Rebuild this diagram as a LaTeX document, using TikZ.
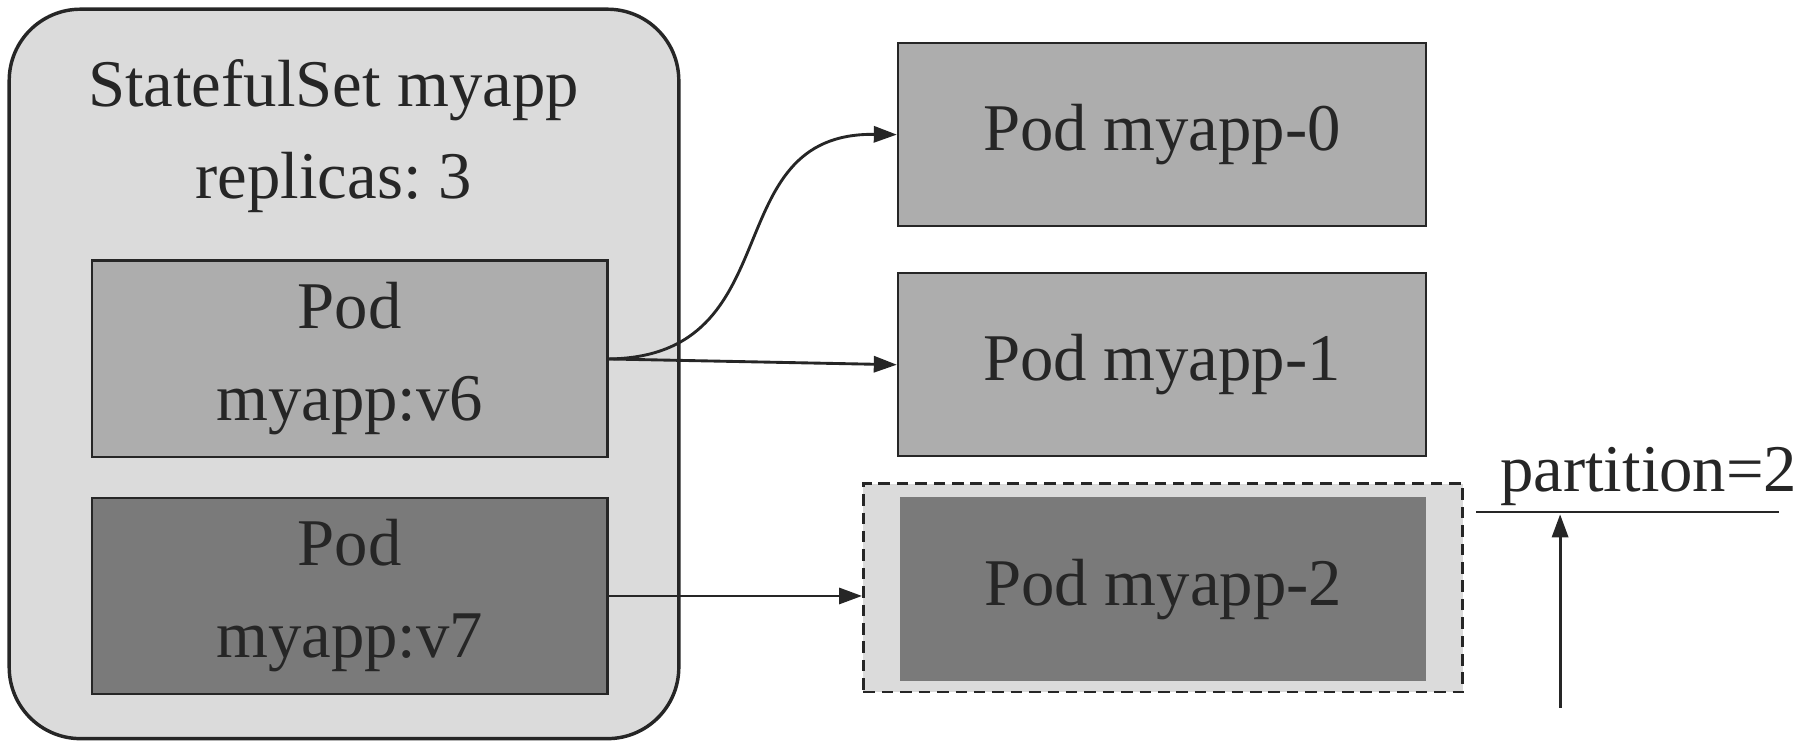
\documentclass[tikz,border=0pt]{standalone}
\usepackage{fontspec}
\setmainfont{LiberationSerif}[Extension=.ttf, UprightFont=*-Regular, BoldFont=*-Bold]
\usetikzlibrary{arrows.meta}
\definecolor{outerfill}{gray}{0.86}
\definecolor{lightpod}{gray}{0.68}
\definecolor{darkpod}{gray}{0.48}
\definecolor{dashfill}{gray}{0.86}
\definecolor{inkc}{gray}{0.15}
\frenchspacing
\begin{document}
\begin{tikzpicture}[x=1pt,y=-1pt,
  txt/.style={font=\rmfamily\fontsize{58}{80}\selectfont, text=inkc},
  podbox/.style={draw=inkc, line width=2pt, inner sep=0pt, align=center, txt},
  conn/.style={draw=inkc, line width=2.5pt, -{Triangle[length=20pt,width=14pt]}}]
\useasboundingbox (0,0) rectangle (1568,650.1);
% outer StatefulSet box
\node[draw=inkc, fill=outerfill, line width=3pt, rounded corners=62pt,
      minimum width=582pt, minimum height=634pt, inner sep=0pt] (ss) at (299,325) {};
\node[txt, align=center] (title) at (290,118) {StatefulSet myapp\\replicas: 3};
% pods inside
\node[podbox, fill=lightpod, minimum width=448pt, minimum height=171pt] (v6) at (304,312) {Pod\\myapp:v6};
\node[podbox, fill=darkpod, minimum width=448pt, minimum height=170pt] (v7) at (304,518) {Pod\\myapp:v7};
% right side pods
\node[podbox, fill=lightpod, minimum width=459pt, minimum height=159pt] (p0) at (1010,117) {Pod myapp-0};
\node[podbox, fill=lightpod, minimum width=459pt, minimum height=159pt] (p1) at (1010,317) {Pod myapp-1};
\node[draw=inkc, fill=dashfill, line width=2.5pt, dash pattern=on 10pt off 6pt,
      minimum width=521pt, minimum height=181pt, inner sep=0pt] (dash) at (1011,511) {};
\node[podbox, fill=darkpod, draw=none, minimum width=457pt, minimum height=160pt] (p2) at (1011,512) {Pod myapp-2};
% connectors
\draw[conn] (v6.east) .. controls (690,310) and (620,115) .. (p0.west);
\draw[conn] (v6.east) -- (p1.west);
\draw[conn] (v7.east) -- (dash.west |- v7.east);
% partition marker
\coordinate (pl) at (1283,445);
\coordinate (pr) at (1546,445);
\coordinate (pa) at (1356,447);
\coordinate (pb) at (1356,615);
\draw[draw=inkc, line width=2.5pt] (pl) -- (pr);
\node[txt, anchor=base] (part) at (1433,427) {partition=2};
\draw[conn] (pb) -- (pa);
\end{tikzpicture}
\end{document}
